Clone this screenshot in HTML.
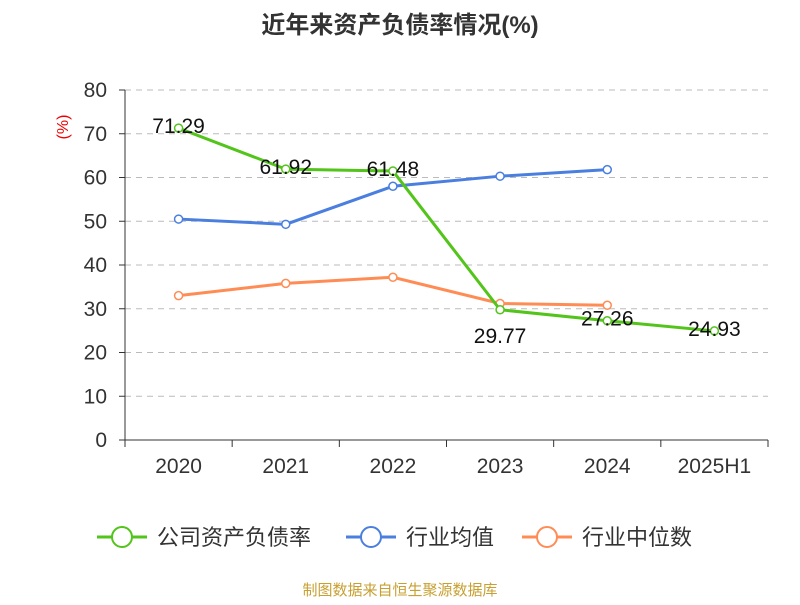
<!DOCTYPE html>
<html><head><meta charset="utf-8">
<style>body{margin:0;background:#fff}svg{font-family:"Liberation Sans","Noto Sans CJK SC",sans-serif}</style>
</head><body>
<svg id="c" width="800" height="600">
<text x="400" y="33" text-anchor="middle" font-size="24" font-weight="bold" fill="#333">近年来资产负债率情况(%)</text>
<text transform="translate(68,127) rotate(-90)" text-anchor="middle" font-size="16" fill="#e00">(%)</text>
<g id="grid"></g><g id="axes"></g><g id="series"></g>
<g>
<g><line x1="97" y1="537" x2="147" y2="537" stroke="#52c41a" stroke-width="3"/><circle cx="122" cy="537" r="10" fill="#fff" stroke="#52c41a" stroke-width="2"/><text x="157" y="545" font-size="22" fill="#333">公司资产负债率</text></g>
<g><line x1="346" y1="537" x2="396" y2="537" stroke="#4a7fe0" stroke-width="3"/><circle cx="371" cy="537" r="10" fill="#fff" stroke="#4a7fe0" stroke-width="2"/><text x="406" y="545" font-size="22" fill="#333">行业均值</text></g>
<g><line x1="522" y1="537" x2="572" y2="537" stroke="#ff8c55" stroke-width="3"/><circle cx="547" cy="537" r="10" fill="#fff" stroke="#ff8c55" stroke-width="2"/><text x="582" y="545" font-size="22" fill="#333">行业中位数</text></g>
</g>
<text x="400" y="595" text-anchor="middle" font-size="15" fill="#c8a032">制图数据来自恒生聚源数据库</text>
</svg>
<script>
const categories=["2020","2021","2022","2023","2024","2025H1"];
const yTicks=[0,10,20,30,40,50,60,70,80];
const company=[71.29,61.92,61.48,29.77,27.26,24.93];
const industryMean=[50.5,49.3,58.0,60.3,61.8];
const industryMedian=[33.0,35.8,37.2,31.2,30.8];
const NS="http://www.w3.org/2000/svg";
const L=125,R=768,T=90,B=440,ymax=80;
const bw=(R-L)/categories.length;
const xs=i=>L+bw*(i+0.5), ys=v=>B-(v/ymax)*(B-T);
function mk(t,a,p){const e=document.createElementNS(NS,t);for(const k in a)e.setAttribute(k,a[k]);p.appendChild(e);return e;}
const grid=document.getElementById('grid'),axes=document.getElementById('axes'),ser=document.getElementById('series');
yTicks.forEach(v=>{const y=ys(v);
 if(v>0){const g=mk('line',{x1:L,x2:R,y1:y,y2:y,stroke:'#bbb','stroke-dasharray':'6,5'},grid);}
 mk('line',{x1:L-6,x2:L,y1:y,y2:y,stroke:'#333'},axes);
 const t=mk('text',{x:L-18,y:y+7,'text-anchor':'end','font-size':21,fill:'#333'},axes);t.textContent=v;
 });
mk('line',{x1:L,x2:L,y1:T,y2:B,stroke:'#333'},axes);
mk('line',{x1:L,x2:R,y1:B,y2:B,stroke:'#333'},axes);
for(let i=0;i<=categories.length;i++){const x=L+bw*i;mk('line',{x1:x,x2:x,y1:B,y2:B+7,stroke:'#333'},axes);}
categories.forEach((c,i)=>{const t=mk('text',{x:xs(i),y:B+33,'text-anchor':'middle','font-size':21,fill:'#333'},axes);t.textContent=c;
 });
function line(data,color,name){const g=mk('g',{},ser);
 mk('polyline',{points:data.map((v,i)=>xs(i)+','+ys(v)).join(' '),fill:'none',stroke:color,'stroke-width':3},g);
 data.forEach((v,i)=>{const p=mk('circle',{cx:xs(i),cy:ys(v),r:4,fill:'#fff',stroke:color,'stroke-width':1.5},g);
  });return g;}
line(industryMedian,'#ff8c55','industry-median-line');
line(industryMean,'#4a7fe0','industry-mean-line');
const cg=line(company,'#52c41a','company-line');
company.forEach((v,i)=>{let prevDrop=i>0&&company[i-1]-v>15;const t=mk('text',{x:xs(i),y:ys(v)+(prevDrop?33:5),'text-anchor':'middle','font-size':21,fill:'#111'},cg);
 t.textContent=v.toFixed(2);});
</script>
</body></html>
